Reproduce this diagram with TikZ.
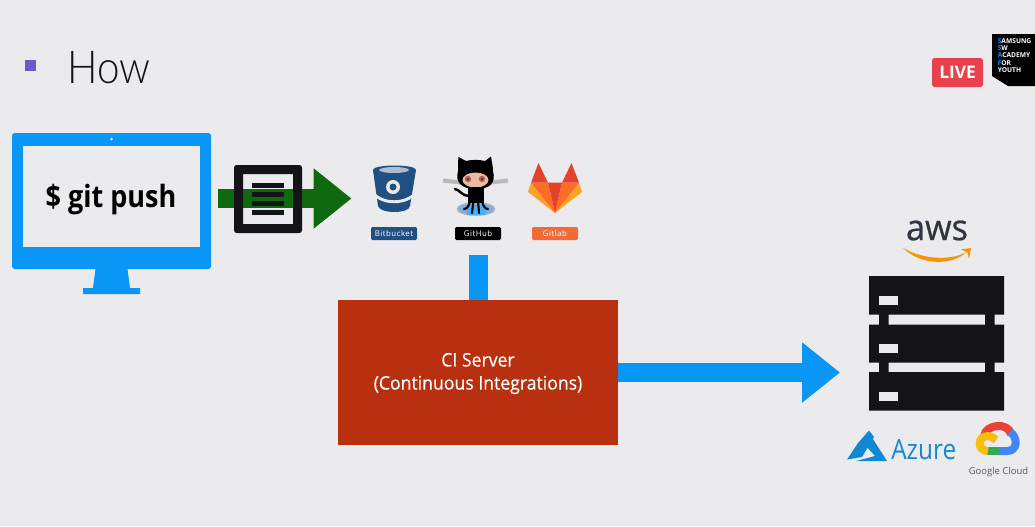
\documentclass[tikz,border=0pt]{standalone}
\usepackage{fontspec}
\setmainfont{Open Sans}
\newfontfamily\lightfont{Lato Light}
\usetikzlibrary{arrows.meta}
\definecolor{bgc}{HTML}{EBEBED}
\definecolor{flowblue}{HTML}{0A96F5}
\definecolor{flowgreen}{HTML}{0F6A0F}
\definecolor{inkc}{HTML}{141416}
\definecolor{cibox}{HTML}{B93010}
\definecolor{bucketc}{HTML}{205081}
\definecolor{azurec}{HTML}{1089D2}
\definecolor{livec}{HTML}{E8414C}
\definecolor{sq}{HTML}{6A5ACD}
\definecolor{glab}{HTML}{F26B36}
\definecolor{glA}{HTML}{E24329}
\definecolor{glB}{HTML}{FC6D26}
\definecolor{glC}{HTML}{FCA326}
\definecolor{gcR}{HTML}{EA4335}
\definecolor{gcB}{HTML}{4285F4}
\definecolor{gcG}{HTML}{34A853}
\definecolor{gcY}{HTML}{FBBC05}
\definecolor{awsc}{HTML}{2F3640}
\definecolor{awso}{HTML}{F79400}
\definecolor{facec}{HTML}{E8BBA3}
\definecolor{eyec}{HTML}{B8604F}
\tikzset{
  x=0.75pt,y=-0.75pt,
  flowline/.style={line width=14.25pt,draw=flowblue,-{Triangle[length=28.5pt,width=43.5pt]}},
  pushline/.style={line width=14.25pt,draw=flowgreen,-{Triangle[length=28.5pt,width=43.5pt]}},
  stemline/.style={line width=14.25pt,draw=flowblue},
  tag/.style={minimum width=34.5pt,minimum height=9.75pt,inner sep=0pt,rounded corners=1pt,text=white,font=\fontsize{5.9}{6.5}\selectfont\addfontfeatures{LetterSpace=6}},
  badgeline/.style={anchor=west,inner sep=0pt,text=white,font=\fontsize{5}{6}\selectfont\bfseries},
}
\begin{document}
\begin{tikzpicture}
\fill[bgc] (0,0) rectangle (1035,526);
\useasboundingbox (0,0) rectangle (1035,526);
% title
\fill[sq] (25,60) rectangle (36,71);
\node[anchor=west,inner sep=0pt,text=inkc,font=\fontsize{34}{40}\selectfont\lightfont] (title) at (67,68) {\scalebox{0.89}[1]{How}};
% live
\node[fill=livec,rounded corners=2pt,minimum width=38.25pt,minimum height=21.75pt,inner sep=0pt,text=white,font=\fontsize{13}{15}\selectfont\bfseries] (live) at (957.5,72.5) {LIVE};
\fill[black] (992,34) -- (1035,34) -- (1035,86) -- (1008,86) -- (992,76) -- cycle;
\node[badgeline] (b1) at (997.5,41) {\textcolor{flowblue}{S}AMSUNG};
\node[badgeline] (b2) at (997.5,48.5) {\textcolor{flowblue}{S}W};
\node[badgeline] (b3) at (997.5,55.5) {\textcolor{flowblue}{A}CADEMY};
\node[badgeline] (b4) at (997.5,63) {\textcolor{flowblue}{F}OR};
\node[badgeline] (b5) at (997.5,70) {YOUTH};
% monitor
\fill[flowblue] (96,265) -- (127,265) -- (130,288) -- (140,288) -- (140,294) -- (83,294) -- (83,288) -- (93,288) -- cycle;
\node[fill=flowblue,rounded corners=2pt,minimum width=149.25pt,minimum height=102pt,inner sep=0pt] (monitor) at (111.5,201) {};
\fill[bgc] (111.5,139) circle (1.5);
\node[fill=bgc,minimum width=132.75pt,minimum height=75.75pt,inner sep=0pt] (screen) at (111.5,196.5) {};
\node[inner sep=0pt,text=black,font=\fontsize{23}{26}\selectfont\bfseries] (gitcmd) at (111,199.5) {\scalebox{0.88}[1]{\$ git push}};
% push arrow
\coordinate (pushfrom) at (218,198.5);
\coordinate (pushto) at (351.5,198.5);
\draw[pushline] (pushfrom) -- (pushto);
% document icon
\fill[inkc,rounded corners=2pt,even odd rule] (234,165) rectangle (302,233) (243,174) [sharp corners] rectangle (293,224);
\foreach \yy in {183,192,201,210}{\fill[inkc] (252,\yy) rectangle (284,\yy+4.5);}
% bitbucket
\fill[bucketc] (373,170) .. controls (373,164) and (416,164) .. (416,170) -- (410,206) .. controls (409,214) and (380,214) .. (378,206) -- cycle;
\fill[bgc!70!bucketc] (394,170) ellipse (15 and 3);
\fill[bgc] (393,187) circle (7);
\fill[bucketc] (393,187) circle (3.5);
\draw[bgc,line width=2.2pt] (372,192) .. controls (382,205) and (406,205) .. (417,192);
\node[tag,fill=bucketc] (bb) at (394,233.5) {Bitbucket};
% octocat
\fill[gray!55] (476,209) ellipse (19.5 and 7);
\fill[cyan!55!blue!50!white] (476,209) ellipse (18 and 5.8);
\fill[flowblue!75!white] (467,205) rectangle (486,214.5);
\draw[gray!55,line width=3pt] (443,180.5) -- (460,182.5) (491,182.5) -- (508,180.5);
\fill[black] (458.5,157) -- (466,161) .. controls (471,159.5) and (480,159.5) .. (485,161) -- (491,156.5) .. controls (492,163) and (493,167) .. (493,171) .. controls (496,182) and (491,189) .. (476,189) .. controls (461,189) and (455,182) .. (458,171) .. controls (458,166) and (458,162) .. (458.5,157) -- cycle;
\fill[facec] (475.5,180) ellipse (13 and 7.5);
\fill[eyec] (468,179) circle (3.2);
\fill[eyec] (482,179) circle (3.2);
\fill[black!70!eyec] (468,179) circle (1);
\fill[black!70!eyec] (482,179) circle (1);
\fill[black] (468,187) rectangle (484,203);
\draw[black,line width=1.8pt,line cap=round] (469,196) .. controls (462,196) and (460,190) .. (455,189);
\draw[black,line width=1.6pt,line cap=round] (470,201) .. controls (469,207) and (466,209) .. (464,209)
  (473.5,200) -- (472,213) (478,200) -- (479,213) (482,201) .. controls (483,207) and (486,209) .. (488,209);
\node[tag,fill=black] (gh) at (478,233.5) {GitHub};
% gitlab
\fill[glC] (531,182.7) -- (528,192) -- (555,213) -- cycle;
\fill[glC] (579,182.7) -- (582,192) -- (555,213) -- cycle;
\fill[glB] (531,182.7) -- (548,182.7) -- (555,213) -- cycle;
\fill[glB] (579,182.7) -- (562,182.7) -- (555,213) -- cycle;
\fill[glA] (548,182.7) -- (562,182.7) -- (555,213) -- cycle;
\fill[glA] (538.5,163) -- (531,182.7) -- (548,182.7) -- cycle;
\fill[glA] (571.5,163) -- (579,182.7) -- (562,182.7) -- cycle;
\node[tag,fill=glab] (gl) at (555,233.5) {Gitlab};
% CI
\node[fill=cibox,minimum width=210pt,minimum height=109pt,inner sep=0pt] (ci) at (478,372.5) {};
\node[inner sep=0pt,align=center,text=white,font=\fontsize{14}{17.3}\selectfont\addfontfeatures{FakeBold=0.3}] (citext) at (478,373.5) {\scalebox{0.945}[1]{CI Server}\\\scalebox{0.945}[1]{(Continuous Integrations)}};
\coordinate (stemtop) at (478.5,255);
\draw[stemline] (stemtop) -- (stemtop |- ci.north);
\coordinate (deploy) at (840,372.5);
\draw[flowline] (ci.east) -- (deploy);
% server rack
\fill[inkc] (869,276) rectangle (1004,314.5) (869,324.5) rectangle (1004,362.5) (869,372) rectangle (1004,410.5)
  (879,314) rectangle (888.5,325) (985,314) rectangle (994.5,325) (879,362) rectangle (888.5,373) (985,362) rectangle (994.5,373);
\foreach \yy in {295.5,343.5,391.5}{\fill[bgc] (879,\yy) rectangle (898,\yy+9.5);}
% aws
\node[inner sep=0pt,text=awsc,font=\fontsize{27}{30}\selectfont\addfontfeatures{FakeBold=0.6}] (aws) at (937,230.5) {\scalebox{0.95}[1]{aws}};
\fill[awso] (903,248) .. controls (918,263) and (948,268) .. (967,252) .. controls (948,262) and (920,258) .. (903,248) -- cycle;
\fill[awso] (961,249.5) -- (971,248) -- (969,259) -- (967.5,252.5) -- cycle;
% azure
\fill[azurec] (869,430.5) -- (858,443) -- (847,459.5) -- (862,457) -- (874,437) -- cycle;
\fill[azurec] (871,436) -- (887,461) -- (856,461) -- (875,456) -- (866,446) -- cycle;
\node[anchor=west,inner sep=0pt,text=azurec,font=\fontsize{21}{24}\selectfont] (azure) at (891,450) {\scalebox{0.87}[1]{Azure}};
% google cloud
\draw[gcR,line width=6pt] (984,436) .. controls (986,424) and (1008,422) .. (1011,434);
\draw[gcB,line width=6pt] (1010,432) .. controls (1018,437) and (1018,451) .. (1007,451) -- (998,451);
\draw[gcG,line width=6pt] (999,451) -- (987,451);
\draw[gcY,line width=6pt] (988,451) .. controls (977,451) and (977,436) .. (988,436) .. controls (991,436) and (994,438) .. (996,440);
\node[inner sep=0pt,text=black!65,font=\fontsize{7.1}{10}\selectfont] (gcloud) at (998.5,472) {Google Cloud};
\end{tikzpicture}
\end{document}
